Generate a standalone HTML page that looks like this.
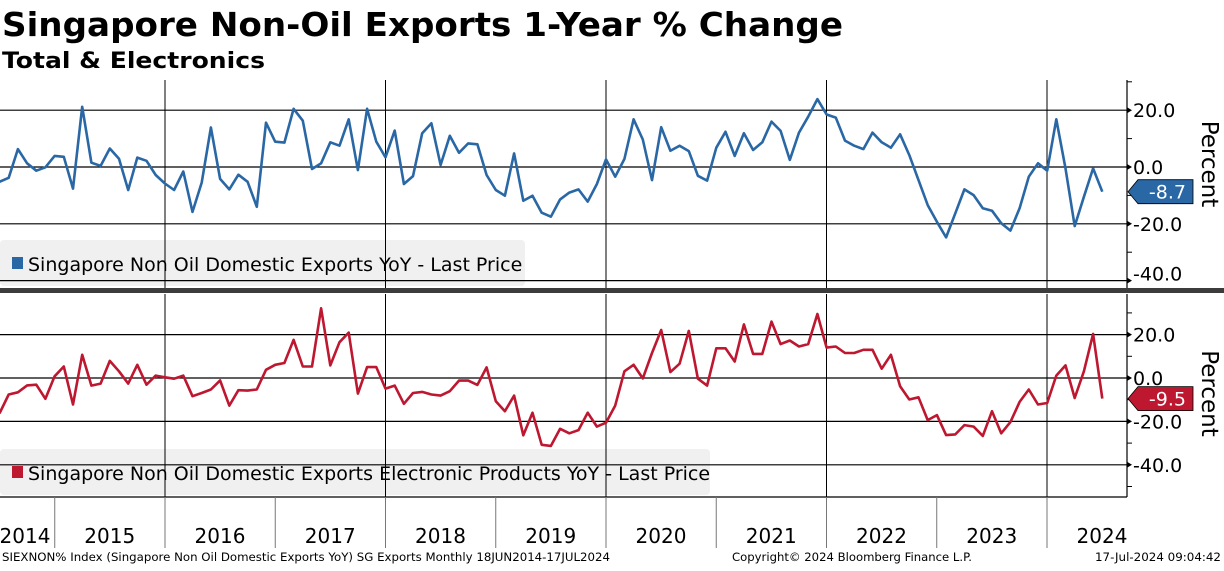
<!DOCTYPE html>
<html><head><meta charset="utf-8"><style>
body{margin:0;background:#fff;width:1224px;height:566px;overflow:hidden;font-family:"Liberation Sans",sans-serif}
svg text{font-family:"DejaVu Sans","Liberation Sans",sans-serif}
</style></head><body>
<svg id="c" width="1224" height="566" xmlns="http://www.w3.org/2000/svg">
<text x="2" y="36" font-size="33" font-weight="bold" textLength="841" lengthAdjust="spacingAndGlyphs">Singapore Non-Oil Exports 1-Year % Change</text>
<text x="2" y="68" font-size="22" font-weight="bold" textLength="263" lengthAdjust="spacingAndGlyphs">Total &amp; Electronics</text>
<g id="g"></g>
</svg>
<script>
const years = ["2014","2015","2016","2017","2018","2019","2020","2021","2022","2023","2024"];
const totalYoY = [-5.2,-3.8,6.3,1.3,-1.3,-0.1,3.9,3.6,-7.6,21.2,1.5,0.4,6.5,2.9,-8.1,3.3,2.2,-2.8,-5.8,-8.1,-1.6,-15.8,-5.5,13.9,-4.2,-7.9,-2.7,-5.2,-14.0,15.6,8.9,8.6,20.5,16.3,-0.7,1.3,8.7,7.5,16.8,-1.1,20.5,8.9,3.4,12.8,-6.0,-3.2,11.9,15.4,0.7,11.0,5.0,8.3,8.0,-2.8,-8.1,-10.1,4.8,-11.9,-10.1,-16.1,-17.5,-11.4,-9.0,-7.9,-12.2,-6.0,2.7,-3.4,2.8,16.8,9.7,-4.6,14.0,5.7,7.5,5.6,-3.1,-4.8,6.8,12.4,3.9,11.9,6.0,8.7,16.0,12.7,2.5,12.1,17.7,23.9,18.5,17.4,9.3,7.5,6.3,12.1,8.7,6.8,11.5,4.2,-4.6,-13.4,-19.3,-24.8,-16.3,-7.9,-9.9,-14.5,-15.4,-19.8,-22.4,-14.5,-3.4,1.3,-1.3,16.8,-0.5,-20.8,-10.5,-0.5,-8.7];
const elecYoY = [-16.3,-7.6,-6.6,-3.4,-3.1,-9.6,0.8,5.3,-12.2,10.7,-3.5,-2.6,7.9,3.1,-2.6,6.1,-3.1,1.1,0.3,-0.3,1.1,-8.4,-6.9,-5.3,-1.1,-12.7,-5.6,-5.8,-5.3,3.8,6.1,6.9,17.6,5.3,5.3,32.1,5.8,16.5,20.9,-7.2,5.0,5.0,-4.9,-3.5,-11.9,-6.9,-6.4,-7.6,-8.1,-6.1,-1.2,-1.2,-3.2,4.9,-10.7,-15.3,-8.1,-26.4,-16.0,-30.8,-31.3,-23.4,-25.5,-24.0,-16.0,-22.4,-20.6,-12.7,3.1,6.1,-0.2,11.5,22.1,2.7,6.6,21.7,-0.3,-3.5,13.7,13.7,7.6,24.7,11.1,11.1,26.0,15.6,17.3,14.5,15.6,29.5,14.0,14.5,11.5,11.5,13.0,13.0,4.3,10.7,-3.8,-9.9,-8.9,-19.4,-17.1,-26.3,-26.0,-21.7,-22.4,-26.7,-15.3,-25.5,-20.3,-11.0,-5.3,-12.2,-11.5,1.1,5.8,-9.2,3.1,20.3,-9.5];
const yTicks = [20,0,-20,-40];
const NS="http://www.w3.org/2000/svg";
const g=document.getElementById('g');
const AX=1127;
function el(t,a,p){const e=document.createElementNS(NS,t);for(const k in a)e.setAttribute(k,a[k]);(p||g).appendChild(e);return e;}
const xM=i=>-0.5+9.19*i;
const xYear=k=>-55.5+110.25*k;
const panels=[
 {data:totalYoY,z:167,s:2.84,top:80,bot:288,color:"#2a67a5",name:"total",leg:"Singapore Non Oil Domestic Exports YoY - Last Price",legW:525,legY:240,minor:[10,-10,-30,30]},
 {data:elecYoY,z:378,s:2.17,top:294,bot:497,color:"#be1730",name:"electronics",leg:"Singapore Non Oil Domestic Exports Electronic Products YoY - Last Price",legW:710,legY:449,minor:[30,10,-10,-30,-50]}
];
panels.forEach((p,pi)=>{
 const y=v=>p.z-v*p.s;
 const lb=el('rect',{x:0,y:p.legY,width:p.legW,height:46,rx:4,fill:"#f0f0f0"});
 
 
 for(let k=2;k<=10;k+=2){const l=el('line',{x1:xYear(k),x2:xYear(k),y1:p.top,y2:p.bot,stroke:"#000","stroke-width":1});
  
  }
 yTicks.forEach(v=>{const yy=y(v);
  const l=el('line',{x1:0,x2:AX,y1:yy,y2:yy,stroke:"#000","stroke-width":1.2});
  
  
  el('path',{d:`M${AX} ${yy-3}L${AX+5} ${yy}L${AX} ${yy+3}Z`,fill:"#000"});
  let ly=yy; if(pi===0&&v===-40) ly=yy-7;
  const t=el('text',{x:AX+6,y:ly+7,"font-size":19,fill:"#000"});t.textContent=v.toFixed(1);
  
  
 });
 p.minor.forEach(v=>{const yy=y(v);if(yy>p.top&&yy<p.bot)el('line',{x1:AX,x2:AX+5,y1:yy,y2:yy,stroke:"#000"});});
 el('line',{x1:AX,x2:AX,y1:p.top,y2:p.bot,stroke:"#000","stroke-width":1.2});
 el('rect',{x:12,y:p.legY+17,width:11,height:12,fill:p.color});
 const lt=el('text',{x:28,y:p.legY+31,"font-size":19,fill:"#000"});lt.textContent=p.leg;
 
 
 const pts=p.data.map((v,i)=>xM(i).toFixed(1)+","+y(v).toFixed(1)).join(" ");
 const pl=el('polyline',{points:pts,fill:"none",stroke:p.color,"stroke-width":2.6,"stroke-linejoin":"round"});
 
 
 const last=p.data[p.data.length-1],ly=y(last);
 const tag=el('path',{d:`M${AX+1} ${ly}L${AX+11} ${ly-12}H1193V${ly+12}H${AX+11}Z`,fill:p.color,stroke:"#000","stroke-width":0.8});
 
 
 const tt=el('text',{x:1186,y:ly+7,"font-size":19,fill:"#fff","text-anchor":"end"});tt.textContent=last.toFixed(1);
 
 
 const cy=(p.top+p.bot)/2+(pi===0?-20:-2);
 const pt=el('text',{x:0,y:0,"font-size":23,fill:"#000","text-anchor":"middle",transform:`translate(1202 ${cy}) rotate(90)`});pt.textContent="Percent";
 
 
});
const sb=el('rect',{x:0,y:288,width:1224,height:5,fill:"#3c3c3c"});


el('line',{x1:0,x2:AX,y1:497,y2:497,stroke:"#000","stroke-width":1.2});
years.forEach((yr,k)=>{
 if(k>0){el('line',{x1:xYear(k),x2:xYear(k),y1:497,y2:548,stroke:"#777","stroke-width":1});}
 const cx=Math.max(xYear(k)+55,28);
 const t=el('text',{x:k===0?25:cx,y:543,"font-size":20,fill:"#000","text-anchor":"middle"});t.textContent=yr;
 
 
});
function ft(x,txt,anchor,name,len){const t=el('text',{x:x,y:561,"font-size":11.5,fill:"#000","text-anchor":anchor,textLength:len,lengthAdjust:"spacingAndGlyphs"});t.textContent=txt;
 
 }
ft(2,"SIEXNON% Index (Singapore Non Oil Domestic Exports YoY) SG Exports  Monthly 18JUN2014-17JUL2024","start","footer-source",608);
ft(732,"Copyright\u00a9 2024 Bloomberg Finance L.P.","start","footer-copyright",240);
ft(1221,"17-Jul-2024 09:04:42","end","footer-timestamp",126);
</script>
</body></html>
